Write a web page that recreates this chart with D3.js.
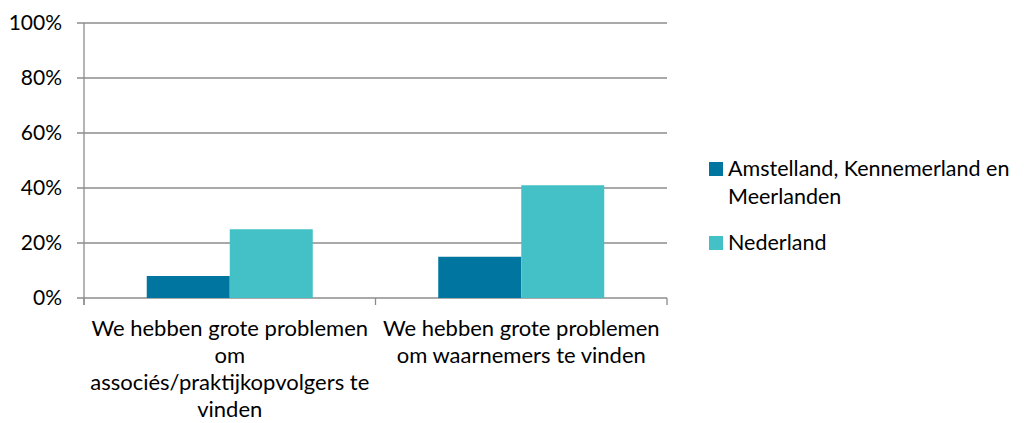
<!DOCTYPE html>
<html>
<head>
<meta charset="utf-8">
<script src="https://cdn.jsdelivr.net/npm/d3@7"></script>
<style>
  body { margin: 0; background: #fff; }
  svg text { font-family: Lato, "Open Sans", sans-serif; fill: #000; }
</style>
</head>
<body>
<svg id="chart" width="1024" height="423"></svg>
<script>
const categories = [
  ["We hebben grote problemen", "om", "associés/praktijkopvolgers te", "vinden"],
  ["We hebben grote problemen", "om waarnemers te vinden"]
];
const seriesNames = [["Amstelland, Kennemerland en", "Meerlanden"], ["Nederland"]];
const regionValues = [8, 15];
const nederlandValues = [25, 41];
const yTicks = [0, 20, 40, 60, 80, 100];
const colors = ["#0075a0", "#43c1c6"];

const svg = d3.select("#chart");
const plotLeft = 84, plotRight = 667, plotTop = 23, plotBottom = 298;
const fontSize = "21.5px";

const x = d3.scaleBand().domain([0, 1]).range([plotLeft, plotRight]);
const xInner = d3.scaleBand().domain([0, 1]).range([0, 166]);
const y = d3.scaleLinear().domain([0, 100]).range([plotBottom, plotTop]);

// gridlines
svg.append("g")
  .selectAll("line")
  .data(yTicks)
  .enter()
  .append("line")
  .attr("x1", plotLeft - 7)
  .attr("x2", plotRight)
  .attr("y1", d => y(d))
  .attr("y2", d => y(d))
  .attr("stroke", "#8c8c8c")
  .attr("stroke-width", 1.3);

// y axis line
svg.append("line")
  .attr("x1", plotLeft).attr("x2", plotLeft)
  .attr("y1", plotTop).attr("y2", plotBottom + 7)
  .attr("stroke", "#8c8c8c").attr("stroke-width", 1.3);

// x tick marks
svg.append("g")
  .selectAll("line")
  .data([plotLeft, plotLeft + x.bandwidth(), plotRight])
  .enter()
  .append("line")
  .attr("x1", d => d).attr("x2", d => d)
  .attr("y1", plotBottom).attr("y2", plotBottom + 7)
  .attr("stroke", "#8c8c8c").attr("stroke-width", 1.3);

// y labels
svg.append("g")
  .selectAll("text")
  .data(yTicks)
  .enter()
  .append("text")
  .attr("x", 62)
  .attr("y", d => y(d) + 7)
  .attr("text-anchor", "end")
  .style("font-size", "21px")
  .text(d => d + "%");

// bars
const series = [regionValues, nederlandValues];
series.forEach((vals, s) => {
  svg.append("g")
    .selectAll("rect")
    .data(vals)
    .enter()
    .append("rect")
    .attr("x", (d, i) => x(i) + (x.bandwidth() - 166) / 2 + xInner(s))
    .attr("y", d => y(d))
    .attr("width", xInner.bandwidth())
    .attr("height", d => plotBottom - y(d))
    .attr("fill", colors[s]);
});

// category labels
categories.forEach((lines, i) => {
  const t = svg.append("text")
    .attr("text-anchor", "middle")
    .style("font-size", "22px");
  lines.forEach((ln, j) => {
    t.append("tspan")
      .attr("x", x(i) + x.bandwidth() / 2)
      .attr("y", 336 + j * 27)
      .text(ln);
  });
});

// legend
const legendY = [162, 236];
seriesNames.forEach((lines, s) => {
  svg.append("rect")
    .attr("x", 709).attr("y", legendY[s])
    .attr("width", 14).attr("height", 14)
    .attr("fill", colors[s]);
  const t = svg.append("text").style("font-size", fontSize);
  lines.forEach((ln, j) => {
    t.append("tspan")
      .attr("x", 728)
      .attr("y", legendY[s] + 14 + j * 28)
      .text(ln);
  });
});
</script>
</body>
</html>
